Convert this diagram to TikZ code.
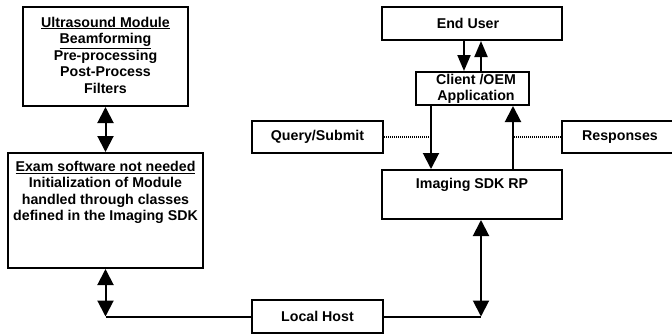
\documentclass[tikz,border=0pt]{standalone}
\usepackage{fontspec}
\setmainfont{Liberation Sans}
\usetikzlibrary{arrows.meta,calc}
\begin{document}
\begin{tikzpicture}[x=1pt,y=-1pt,
  box/.style={draw,line width=2pt,fill=white,inner sep=0pt},
  txt/.style={font=\fontsize{14.2}{16.5}\selectfont\bfseries,align=center,inner sep=0pt},
  con/.style={line width=2pt},
  tipp/.style={-{Triangle[length=16pt,width=16pt]}},
  dtip/.style={{Triangle[length=16pt,width=16pt]}-{Triangle[length=16pt,width=16pt]}},
  stip/.style={-{Triangle[length=16pt,width=13pt]}},
  dots/.style={line width=1.1pt,dash pattern=on 1.1pt off 0.9pt}]
\useasboundingbox (0,0) rectangle (672,335);
\clip (0,0) rectangle (672,335);

% boxes
\node[box,minimum width=165pt,minimum height=99pt] (um) at (105.5,56.5) {};
\node[txt] (umtext) at (105.5,55) {\underline{Ultrasound Module}\\\underline{Beamforming}\\Pre-processing\\Post-Process\\Filters};

\node[box,minimum width=195pt,minimum height=115pt] (exam) at (105.5,210.5) {};
\node[txt,anchor=north] (examtext) at (105.5,161) {\underline{Exam software not needed}\\Initialization of Module\\handled through classes\\defined in the Imaging SDK};

\node[box,minimum width=180pt,minimum height=33pt] (eu) at (472,23.5) {};
\node[txt] (eutext) at (468,23.5) {End User};

\node[box,minimum width=113pt,minimum height=33pt] (cl) at (472.5,88.5) {};
\node[txt] (cltext) at (476,89) {Client /OEM\\Application};

\node[box,minimum width=131pt,minimum height=32pt] (qs) at (317.5,137) {};
\node[txt] (qstext) at (317.5,137) {Query/Submit};

\node[box,minimum width=116pt,minimum height=32pt] (rs) at (620,137) {};
\node[txt] (rstext) at (620,137) {Responses};

\node[box,minimum width=180pt,minimum height=49pt] (img) at (472,194.5) {};
\node[txt] (imgtext) at (472,185) {Imaging SDK RP};

\node[box,minimum width=131pt,minimum height=33pt] (lh) at (317.5,316.5) {};
\node[txt] (lhtext) at (317.5,316.5) {Local Host};

% connectors
\draw[con,dtip] (um.south) -- (exam.north);

\coordinate (lc) at (exam.south |- lh.west);
\draw[con] (lc) -- (lh.west);
\draw[con,dtip] (exam.south) -- (lc);

\coordinate (imgs) at ([xshift=9pt]img.south);
\coordinate (rc) at (imgs |- lh.east);
\draw[con] (lh.east) -- (rc);
\draw[con,dtip] (rc) -- (imgs);

\coordinate (eud) at ([xshift=-8pt]eu.south);
\coordinate (euu) at ([xshift=9pt]eu.south);
\draw[con,stip] (eud) -- (eud |- cl.north);
\draw[con,stip] (euu |- cl.north) -- (euu);

\coordinate (cld) at ([xshift=-41.5pt]cl.south);
\coordinate (clu) at ([xshift=40.5pt]cl.south);
\draw[con,tipp] (cld) -- (cld |- img.north);
\draw[con,tipp] (clu |- img.north) -- (clu);

\draw[dots] (qs.east) -- (cld |- qs.east);
\draw[dots] (rs.west) -- (clu |- rs.west);
\end{tikzpicture}
\end{document}
